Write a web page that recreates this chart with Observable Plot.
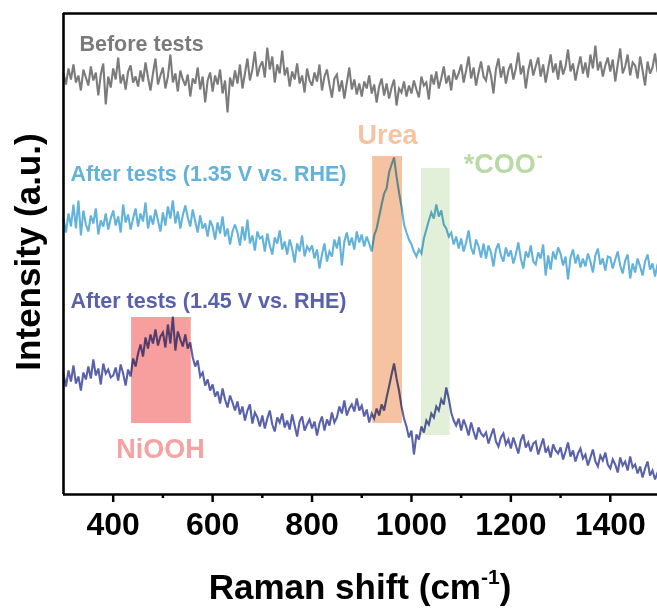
<!DOCTYPE html>
<html>
<head>
<meta charset="utf-8">
<script src="https://cdn.jsdelivr.net/npm/d3@7"></script>
<script src="https://cdn.jsdelivr.net/npm/@observablehq/plot@0.6"></script>
<style>
  html, body { margin: 0; padding: 0; background: #fff; }
  svg { display: block; }
</style>
</head>
<body>
<script>
// Raman shift grid: 300 to 1495 cm-1, step 5
const shiftStart = 300, shiftStep = 5;

// Intensities (a.u., stacked/offset as in the figure)
const beforeTests = [
  421,410,426,415,430,412,419,404,425,417,
  409,428,414,422,399,420,431,390,418,407,
  426,415,437,411,420,405,423,429,412,418,
  408,424,413,432,417,404,421,436,410,419,
  427,406,418,440,412,421,403,424,415,409,
  420,398,416,411,427,405,418,392,414,422,
  403,419,410,425,401,414,382,417,408,424,
  411,430,406,421,436,414,425,443,418,428,
  433,417,447,425,438,412,430,421,444,419,
  427,408,423,415,431,411,419,402,426,414,
  409,422,413,430,404,418,425,410,397,416,
  420,403,414,396,412,427,405,415,400,411,
  398,413,406,419,401,410,392,408,416,399,
  411,396,407,415,389,406,402,413,398,409,
  401,414,405,397,418,409,412,395,420,410,
  423,406,416,428,411,419,404,425,415,421,
  430,412,424,438,416,427,409,422,433,418,
  414,429,419,401,425,436,417,428,411,424,
  431,415,426,442,420,429,406,424,435,419,
  428,437,418,430,412,426,440,422,431,415,
  434,420,428,445,423,431,414,427,438,421,
  432,417,440,426,449,424,433,418,429,437,
  423,435,413,430,446,421,428,440,419,432,
  429,416,438,424,409,433,421,427,441,423
];

const after135 = [
  275,262,281,268,290,266,294,259,284,270,
  263,279,271,286,260,274,268,281,265,276,
  284,269,278,262,290,272,280,265,276,286,
  268,281,273,292,266,279,270,285,274,263,
  282,269,288,276,294,271,283,266,279,289,
  277,268,285,273,262,279,266,271,258,274,
  268,255,272,261,278,258,266,250,263,270,
  262,249,268,254,275,251,259,244,263,256,
  258,243,261,249,240,257,251,264,245,253,
  240,255,246,232,251,243,259,238,248,244,
  249,236,245,226,240,251,233,243,238,255,
  246,258,229,253,262,249,257,245,263,252,
  260,248,258,251,243,259,266,278,290,301,
  306,322,330,337,318,302,288,270,262,255,
  250,243,238,245,241,256,265,274,282,276,
  290,278,284,270,266,258,262,250,258,246,
  256,243,252,264,247,240,255,248,237,251,
  236,249,242,228,245,251,239,233,247,238,
  244,231,240,252,236,226,243,237,249,233,
  230,242,236,250,219,239,225,243,235,247,
  241,229,238,215,237,245,231,240,227,236,
  228,241,233,222,239,246,230,236,224,238,
  237,226,235,243,229,221,234,240,216,231,
  222,236,228,219,233,240,225,231,218,230
];

const after145 = [
  120,108,124,113,129,111,118,104,122,115,
  128,116,135,119,126,110,131,121,125,117,
  119,127,114,130,121,109,125,118,136,128,
  141,150,138,157,146,160,151,165,149,158,
  162,147,170,151,178,144,163,155,148,160,
  146,152,137,128,134,118,122,109,115,104,
  110,98,103,91,106,95,87,99,92,84,
  93,80,88,74,84,90,71,82,77,68,
  79,66,76,84,70,63,77,72,81,67,
  74,65,80,69,58,73,78,64,70,75,
  66,73,59,71,78,64,75,69,82,72,
  77,88,81,94,79,86,90,83,96,84,
  89,78,85,72,81,76,86,79,90,84,
  97,108,120,131,116,104,88,76,68,57,
  64,40,60,55,68,62,74,70,81,77,
  88,84,95,90,107,96,82,74,69,76,
  64,75,68,59,72,63,55,67,61,58,
  62,51,59,66,53,48,57,61,50,55,
  46,57,49,41,54,60,47,52,43,51,
  53,40,48,56,42,47,37,50,44,41,
  47,35,43,52,38,44,33,41,46,36,
  40,29,37,45,33,28,39,34,42,30,
  26,35,30,22,37,29,33,24,38,27,
  30,21,28,17,26,33,19,24,15,22
];

const seriesNames = ["Before tests", "After tests (1.35 V vs. RHE)", "After tests (1.45 V vs. RHE)"];
const seriesColors = ["#7b7b7b", "#62b2da", "#5861aa"];

// highlighted bands
const bandNames = ["NiOOH", "Urea", "*COO"];
const bandX1 = [437, 922, 1020];
const bandX2 = [557, 982, 1078];
const bandY1 = [71, 71, 59];
const bandY2 = [177, 338, 326];
const bandColors = ["#f79e9e", "#f5c3a1", "#e2f0d9"];
const bandLabelColors = ["#f6a2a2", "#f5c3a1", "#b9d9a5"];
const bandLabelX = [495, 952, 1105];
const bandLabelY = [37, 351, 322];
const bandLabelAnchor = ["middle", "middle", "start"];

const seriesLabelX = [332, 314, 314];
const seriesLabelY = [444, 314, 187];

const majorTicks = [400, 600, 800, 1000, 1200, 1400];
const minorTicks = [500, 700, 900, 1100, 1300];

// build tables
const lineData = [];
[beforeTests, after135, after145].forEach((arr, s) => {
  arr.forEach((v, i) => lineData.push({shift: shiftStart + shiftStep * i, intensity: v, series: seriesNames[s]}));
});
const bands = bandNames.map((n, i) => ({name: n, x1: bandX1[i], x2: bandX2[i], y1: bandY1[i], y2: bandY2[i], color: bandColors[i], lcolor: bandLabelColors[i], lx: bandLabelX[i], ly: bandLabelY[i], anchor: bandLabelAnchor[i]}));
const seriesLabels = seriesNames.map((n, i) => ({name: n, x: seriesLabelX[i], y: seriesLabelY[i], color: seriesColors[i]}));

const font = "'Liberation Sans', Arial, Helvetica, sans-serif";

const chart = Plot.plot({
  width: 657,
  height: 608,
  marginLeft: 63,
  marginRight: 0,
  marginTop: 13,
  marginBottom: 114,
  style: {fontFamily: font, background: "white", overflow: "visible"},
  x: {domain: [300, 1495]},
  y: {domain: [0, 481], axis: null},
  color: {domain: seriesNames, range: seriesColors},
  marks: [
    Plot.line(lineData, {x: "shift", y: "intensity", z: "series", stroke: "series", strokeWidth: 2.1, strokeLinejoin: "miter", strokeMiterlimit: 3, curve: "linear"}),
    Plot.rect(bands, {x1: "x1", x2: "x2", y1: "y1", y2: "y2", fill: "color", mixBlendMode: "multiply"}),
    Plot.text(bands.filter(d => d.anchor === "middle"), {x: "lx", y: "ly", text: "name", fill: "lcolor", fontSize: 27, fontWeight: "bold", lineAnchor: "bottom", textAnchor: "middle"}),
    Plot.text(bands.filter(d => d.anchor === "start"), {x: "lx", y: "ly", text: "name", fill: "lcolor", fontSize: 27, fontWeight: "bold", lineAnchor: "bottom", textAnchor: "start"}),
    Plot.text(bands.filter(d => d.anchor === "start"), {x: "lx", y: "ly", text: () => "-", fill: "lcolor", fontSize: 18, fontWeight: "bold", lineAnchor: "bottom", textAnchor: "start", dx: 73, dy: -11}),
    Plot.text(seriesLabels, {x: "x", y: "y", text: "name", fill: "color", fontSize: 21.5, fontWeight: "bold", lineAnchor: "bottom", textAnchor: "start"}),
    Plot.ruleX([300], {stroke: "black", strokeWidth: 2.6}),
    Plot.ruleY([0], {stroke: "black", strokeWidth: 2.6}),
    Plot.ruleY([481], {stroke: "black", strokeWidth: 2.6}),
    Plot.axisX({ticks: majorTicks, tickSize: 8, tickPadding: 10, tickFormat: d => String(d), fontSize: 32, fontWeight: "bold", fill: "black", strokeWidth: 2.5, label: null}),
    Plot.axisX({ticks: minorTicks, tickSize: 4, tickFormat: () => "", strokeWidth: 2.5, label: null})
  ]
});

document.body.appendChild(chart);

const svg = d3.select(chart);
svg.append("text")
  .attr("transform", "translate(40,252) rotate(-90)")
  .attr("text-anchor", "middle")
  .attr("font-family", font)
  .attr("font-weight", "bold")
  .attr("font-size", 35)
  .attr("fill", "black")
  .text("Intensity (a.u.)");

const xl = svg.append("text")
  .attr("x", 360)
  .attr("y", 599)
  .attr("text-anchor", "middle")
  .attr("font-family", font)
  .attr("font-weight", "bold")
  .attr("font-size", 35)
  .attr("fill", "black");
xl.append("tspan").text("Raman shift (cm");
xl.append("tspan").attr("dy", -15).attr("font-size", 21).text("-1");
xl.append("tspan").attr("dy", 15).text(")");
</script>
</body>
</html>
